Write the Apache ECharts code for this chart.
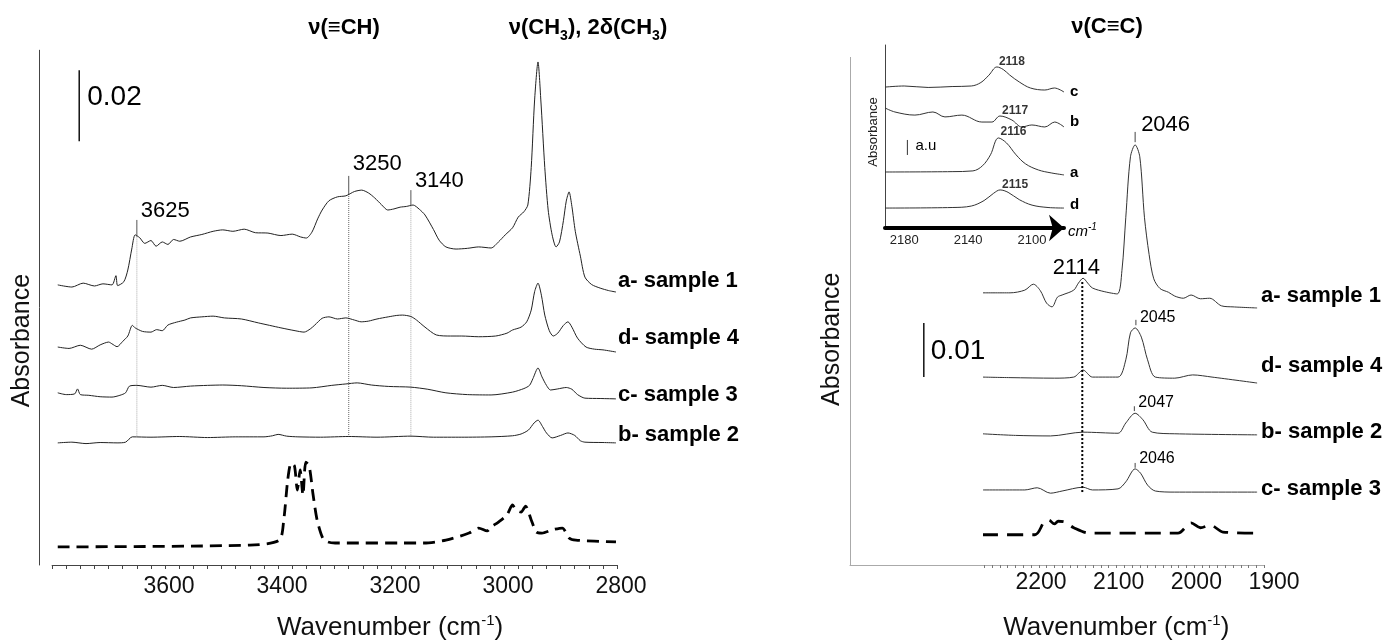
<!DOCTYPE html>
<html><head><meta charset="utf-8">
<script src="https://cdn.jsdelivr.net/npm/echarts@6/dist/echarts.min.js"></script>
<style>html,body{margin:0;padding:0;background:#fff}#c{width:1387px;height:642px}</style>
</head><body><div id="c"></div>
<script>
// ---------- LEFT PANEL (wavenumber, absorbance x1000 with stacking offset) ----------
const leftA = [[3765,78.9],[3740,78.3],[3720,79.4],[3700,78.6],[3685,79.2],[3669,78.9],[3662,81.5],[3659,78.7],[3648,79.8],[3641,83.1],[3634,89],[3628,93.0],[3620,92.2],[3611,90.6],[3600,91.4],[3591,89.8],[3580,91.0],[3570,90.3],[3560,91.7],[3549,91.2],[3530,92.4],[3510,93.1],[3490,94.0],[3473,94.4],[3455,94.0],[3435,94.6],[3415,93.6],[3393,93.5],[3370,92.8],[3350,93.2],[3335,92.4],[3325,92.1],[3315,93.8],[3305,97.5],[3297,100.0],[3285,102.6],[3270,103.7],[3255,104.0],[3240,105.2],[3227,105.6],[3215,104.8],[3204,103.4],[3192,101.5],[3181,100.0],[3170,100.3],[3159,100.8],[3148,101.0],[3136,101.4],[3125,100.2],[3115,98.6],[3100,94.5],[3090,91.5],[3078,89.6],[3060,89.0],[3040,89.2],[3020,89.6],[2998,89.3],[2985,91.0],[2973,93.0],[2960,95.0],[2950,98.0],[2940,99.5],[2933,101.4],[2927,112],[2921,131],[2915,141.7],[2910,131],[2903,112],[2897,100],[2890,93],[2883,89.6],[2877,91],[2870,97],[2865,102.5],[2860,105.1],[2855,101],[2849,94],[2840,87],[2832,81.1],[2820,79],[2805,78.0],[2790,77.3],[2777,76.9]];
const leftD = [[3765,61.4],[3745,61.0],[3725,61.9],[3705,60.8],[3690,62.0],[3675,62.8],[3669,62.3],[3660,61.5],[3650,63.0],[3641,64.5],[3633,67.5],[3628,66.8],[3615,65.8],[3600,65.6],[3590,66.3],[3580,66.0],[3570,67.6],[3555,68.4],[3540,69.0],[3530,69.6],[3510,69.9],[3490,70.1],[3470,69.6],[3440,69.3],[3410,68.2],[3390,67.5],[3370,66.8],[3345,66.0],[3329,65.6],[3318,66.5],[3310,67.6],[3297,69.5],[3285,69.9],[3270,69.3],[3255,69.6],[3240,69.0],[3228,68.5],[3215,68.7],[3200,69.3],[3180,69.9],[3165,70.3],[3155,70.4],[3140,70.0],[3130,69.0],[3115,67.0],[3095,64.8],[3070,64.5],[3050,64.5],[3020,64.3],[2990,64.5],[2970,65.3],[2960,66.2],[2945,67.0],[2935,68.5],[2927,71.8],[2921,77],[2915,79.4],[2909,76],[2903,70.4],[2895,66],[2888,64.5],[2880,65.3],[2870,67.5],[2862,68.5],[2855,67],[2845,63.9],[2830,61.4],[2815,60.8],[2800,60.6],[2777,60.0]];
const leftC = [[3765,48.5],[3750,48.0],[3735,48.2],[3730,49.6],[3725,48.0],[3710,47.8],[3690,47.4],[3669,47.3],[3655,47.8],[3645,48.5],[3638,50.4],[3625,50.6],[3600,50.1],[3580,50.6],[3560,50.0],[3530,50.4],[3500,50.6],[3473,50.7],[3440,50.5],[3400,50.0],[3360,49.8],[3315,49.9],[3280,50.6],[3255,51.0],[3235,51.3],[3210,50.7],[3180,50.3],[3140,50.1],[3110,49.5],[3078,48.5],[3040,48.0],[2998,47.9],[2960,48.7],[2940,49.7],[2930,50.6],[2924,52.5],[2915,55.5],[2908,53],[2900,50.6],[2893,49.3],[2880,49.6],[2865,50.0],[2855,49.5],[2845,48.0],[2832,47.0],[2805,46.9],[2777,46.8]];
const leftB = [[3765,34.4],[3740,34.6],[3715,34.2],[3690,34.5],[3660,34.4],[3645,34.6],[3633,36.1],[3600,36.0],[3550,36.2],[3500,35.9],[3450,36.1],[3400,36.1],[3385,36.4],[3375,36.8],[3360,36.3],[3340,36.1],[3300,36.0],[3250,36.2],[3200,36.0],[3140,36.3],[3100,36.0],[3050,36.0],[2998,36.1],[2960,36.4],[2945,36.9],[2932,38.0],[2922,40.0],[2915,40.8],[2907,39],[2900,37.2],[2890,35.8],[2875,36.5],[2862,37.2],[2850,36.5],[2840,35.0],[2832,34.6],[2800,34.5],[2777,34.4]];
const leftRef = [[3765,5.1],[3425,5.6],[3373,7.0],[3365,12.7],[3358,23.9],[3352,28.7],[3346,27.9],[3341,21.1],[3336,26.8],[3331,19.7],[3326,29.0],[3320,27.9],[3313,19.7],[3306,12.7],[3296,7.6],[3287,6.5],[3274,6.2],[3117,6.2],[3078,7.0],[3037,9.0],[3020,10.4],[3005,9.6],[2998,10.7],[2985,12.1],[2970,14.1],[2960,16.9],[2954,15.5],[2945,14.9],[2937,16.6],[2927,12.7],[2918,9.3],[2908,9.0],[2890,9.9],[2872,10.4],[2860,7.6],[2848,7.0],[2777,6.5]];
const leftNames = ['a- sample 1','d- sample 4','c- sample 3','b- sample 2'];
const leftMarkWn = [3625, 3250, 3140];
const leftMarkTop = [97.2, 109.6, 105.6];
const leftMarkCurve = [92.5, 104.5, 101.2];
const leftMarkBottom = [36.1, 36.1, 36.1];
const leftMarkText = ['3625', '3250', '3140'];
const leftBarWn = 3727, leftBar = [139.4, 119.4], leftBarText = '0.02';

// ---------- RIGHT PANEL ----------
const rightA = [[2243,50.4],[2207,50.4],[2188,50.9],[2177,52.0],[2168,50.8],[2160,48.5],[2153,47.8],[2146,49.6],[2140,50.0],[2125,50.9],[2119,52.2],[2113,53.1],[2107,52.2],[2101,51.3],[2085,50.6],[2069,50.2],[2063,54.5],[2058,64.4],[2052,75.6],[2046,77.8],[2040,75.6],[2034,64.4],[2028,57.5],[2022,53.0],[2014,51.2],[2003,50.5],[1995,49.8],[1984,49.4],[1974,50.0],[1962,49.3],[1950,49.4],[1935,48.0],[1920,47.8],[1889,47.6]];
const rightD = [[2243,34.8],[2207,34.7],[2150,34.6],[2125,34.8],[2113,36.1],[2101,34.8],[2068,34.8],[2058,38.0],[2052,43.0],[2046,43.9],[2038,42.2],[2030,38.0],[2020,34.8],[1995,34.6],[1972,35.2],[1947,34.8],[1889,33.7]];
const rightB = [[2243,24.3],[2200,24.0],[2155,23.9],[2113,24.6],[2068,24.4],[2058,26.3],[2046,28.1],[2036,26.9],[2024,24.6],[1995,24.3],[1889,24.1]];
const rightC = [[2243,13.9],[2188,13.9],[2172,14.3],[2155,13.3],[2140,13.7],[2113,14.4],[2101,13.9],[2068,14.1],[2058,15.4],[2046,17.8],[2039,17.0],[2030,14.8],[2020,13.7],[1995,13.5],[1889,13.5]];
const rightRef = [[2243,5.6],[2175,5.6],[2163,8.0],[2157,8.3],[2150,7.6],[2145,8.1],[2137,8.0],[2125,6.9],[2105,5.9],[1991,5.9],[1974,7.8],[1962,6.9],[1949,7.4],[1933,6.1],[1889,5.9]];
const rightNames = ['a- sample 1','d- sample 4','b- sample 2','c- sample 3'];
const rightPeakWn = [2046, 2045, 2047, 2046];
const rightPeakTop = [80.2, 45.4, 29.4, 18.9];
const rightPeakBottom = [78.3, 44.4, 28.5, 18.0];
const rightPeakText = ['2046', '2045', '2047', '2046'];
const shoulderWn = 2114, shoulder = [52.4, 13.5], shoulderText = '2114';
const rightBarWn = 2318, rightBar = [44.8, 34.8], rightBarText = '0.01';

// ---------- INSET ----------
const insetC = [[2192,77.0],[2180,77.6],[2165,76.8],[2150,77.3],[2138,77.6],[2132,79.5],[2127,83.5],[2122,88.0],[2118,86.6],[2114,83.6],[2108,79.8],[2101,76.5],[2092,75.4],[2086,76.5],[2080,74.3]];
const insetB = [[2192,65.6],[2185.8,63.4],[2173.3,61.7],[2162,63.4],[2154.5,60.7],[2143.9,61.7],[2131.4,57.9],[2125.1,57.9],[2120.1,61.2],[2112.6,59.0],[2106.4,55.2],[2100.1,56.3],[2092,55.2],[2085.8,57.9],[2080,55.2]];
const insetA = [[2192,30.6],[2150,30.8],[2137,31.2],[2131,34],[2126,40],[2121,49.2],[2116,46.5],[2110,40],[2104,35],[2096,31.7],[2088,30.1],[2080,29.0]];
const insetD = [[2192,10.9],[2150,11.2],[2138,12.0],[2130,15.0],[2124,19.0],[2120,20.8],[2115,19.5],[2108,15.5],[2100,12.5],[2090,11.2],[2080,10.9]];
const insetNames = ['c','b','a','d'];
const insetPeakWn = [2122, 2120, 2121, 2120];
const insetPeakVal = [88.0, 61.2, 49.2, 20.8];
const insetPeakText = ['2118', '2117', '2116', '2115'];
const insetBarWn = 2178, insetBar = [48.1, 39.9], insetBarText = 'a.u';

const FONT = '"Liberation Sans", Arial, Helvetica, sans-serif';

function lab(text, pos, dist, off, size, bold) {
  return { show: true, position: pos, distance: dist, offset: off, formatter: text,
    fontFamily: FONT, fontSize: size, fontWeight: bold ? 'bold' : 'normal', color: '#000' };
}
function withLast(data, label) {
  return data.map((p, i) => i === data.length - 1 ? { value: p, label: label } : p);
}
function ser(data, axis, style, z, smooth) {
  return {
    type: 'line', xAxisIndex: axis, yAxisIndex: axis, data: data,
    showSymbol: true, symbol: 'circle', symbolSize: 0, smooth: smooth || false,
    itemStyle: { color: 'rgba(0,0,0,0)' },
    lineStyle: Object.assign({ color: '#222', width: 1 }, style || {}),
    label: { show: false }, silent: true, animation: false, clip: false, z: z || 3
  };
}

const series = [];
// left spectra
const leftSets = [leftA, leftD, leftC, leftB];
const leftOff = [-11, -14, -4, -8];
leftSets.forEach((d, i) => series.push(ser(withLast(d, lab(leftNames[i], 'right', 2, [0, leftOff[i]], 22, true)), 0, null, 3, 0.25)));
series.push(ser(leftRef, 0, { color: '#000', width: 2.8, type: [12, 7] }, 3, 0.25));
const leftMarkDy = [-9, -12, -9];
leftMarkWn.forEach((w, i) => {
  series.push(ser([{ value: [w, leftMarkTop[i]], label: lab(leftMarkText[i], 'right', 4, [0, leftMarkDy[i]], 22, false) }, [w, leftMarkCurve[i]]], 0, { color: '#555' }));
  series.push(ser([[w, leftMarkCurve[i]], [w, leftMarkBottom[i]]], 0, { color: i === 1 ? '#666' : '#aaa', type: 'dotted' }, 2));
});
series.push(ser([{ value: [leftBarWn, leftBar[0]], label: lab(leftBarText, 'right', 8, [0, 27], 28, false) }, [leftBarWn, leftBar[1]]], 0, { color: '#111', width: 1.5 }));

// right spectra
const rightSets = [rightA, rightD, rightB, rightC];
const rightOff = [-12, -17, -3, -3];
rightSets.forEach((d, i) => series.push(ser(withLast(d, lab(rightNames[i], 'right', 4, [0, rightOff[i]], 22, true)), 2, { color: '#333' }, 3, 0.3)));
series.push(ser(rightRef, 2, { color: '#000', width: 2.8, type: [16, 9] }, 3, 0.3));
const rightPeakDy = [-7, -2, -4, -4];
rightPeakWn.forEach((w, i) => {
  series.push(ser([{ value: [w, rightPeakTop[i]], label: lab(rightPeakText[i], 'right', i === 0 ? 6 : 4, [0, rightPeakDy[i]], i === 0 ? 22 : 16, false) }, [w, rightPeakBottom[i]]], 2, { color: '#444' }));
});
series.push(ser([{ value: [shoulderWn, shoulder[0]], label: lab(shoulderText, 'top', 3, [-6, 0], 22, false) }, [shoulderWn, shoulder[1]]], 2, { color: '#000', width: 2, type: 'dotted' }));
series.push(ser([{ value: [rightBarWn, rightBar[0]], label: lab(rightBarText, 'right', 7, [0, 28], 28, false) }, [rightBarWn, rightBar[1]]], 1, { color: '#111', width: 1.5 }));

// inset
const insetSets = [insetC, insetB, insetA, insetD];
const insetOff = [0, -5, -2, -3];
insetSets.forEach((d, i) => series.push(ser(withLast(d, lab(insetNames[i], 'right', 6, [0, insetOff[i]], 15, true)), 3, { color: '#333' }, 5, 0.35)));
const insetPeakDy = [-5, -5, -6, -5];
series.push({
  type: 'scatter', xAxisIndex: 3, yAxisIndex: 3, symbolSize: 0, silent: true, animation: false, z: 6,
  itemStyle: { color: 'rgba(0,0,0,0)' },
  data: insetPeakWn.map((w, i) => ({ value: [w, insetPeakVal[i]], label: lab(insetPeakText[i], 'right', 2, [0, insetPeakDy[i]], 12, true) }))
});
series.push(ser([{ value: [insetBarWn, insetBar[0]], label: lab(insetBarText, 'right', 8, [0, 6], 15, false) }, [insetBarWn, insetBar[1]]], 3, { color: '#333' }, 5));

const nameRich = { sup: { fontSize: 15, lineHeight: 15, verticalAlign: 'top', fontFamily: FONT, color: '#111' } };

const option = {
  animation: false,
  backgroundColor: '#fff',
  grid: [
    { left: 52.1, top: 50.25, width: 565, height: 514.75, outerBoundsMode: 'none' },
    { left: 850, top: 57.4, width: 414.1, height: 507.6, outerBoundsMode: 'none' },
    { left: 984.4, top: 57.4, width: 279.7, height: 507.6, outerBoundsMode: 'none' },
    { left: 885, top: 45, width: 179, height: 183, outerBoundsMode: 'none' }
  ],
  xAxis: [
    { gridIndex: 0, type: 'value', min: 2775, max: 3775, inverse: true, interval: 25,
      axisLine: { lineStyle: { color: '#444', width: 1 } },
      axisTick: { show: true, length: 4, lineStyle: { color: '#444' } },
      splitLine: { show: false },
      axisLabel: { formatter: v => (v % 200 === 0 ? String(v) : ''), fontSize: 23, fontFamily: FONT, color: '#111', margin: 10, padding: [0, 0, 0, 36] },
      name: 'Wavenumber (cm{sup|-1})', nameLocation: 'middle', nameGap: 48, nameMoveOverlap: false,
      nameTextStyle: { fontSize: 26, fontFamily: FONT, color: '#111', lineHeight: 30, padding: [0, 0, 0, 111], rich: nameRich } },
    { gridIndex: 1, type: 'value', min: 1880, max: 2413, inverse: true,
      axisLine: { lineStyle: { color: '#aaa', width: 1 } }, axisTick: { show: false }, axisLabel: { show: false }, splitLine: { show: false } },
    { gridIndex: 2, type: 'value', min: 1880, max: 2240, inverse: true, interval: 10,
      axisLine: { show: false }, axisTick: { show: true, length: 3, lineStyle: { color: '#777' } }, splitLine: { show: false },
      axisLabel: { formatter: v => (v % 100 === 0 ? String(v) : ''), fontSize: 23, fontFamily: FONT, color: '#111', margin: 6, padding: [0, 0, 0, 51] },
      name: 'Wavenumber (cm{sup|-1})', nameLocation: 'middle', nameGap: 48, nameMoveOverlap: false,
      nameTextStyle: { fontSize: 26, fontFamily: FONT, color: '#111', lineHeight: 30, padding: [0, 16, 0, 0], rich: nameRich } },
    { gridIndex: 3, type: 'value', min: 2080, max: 2192, inverse: true, interval: 20,
      axisLine: { lineStyle: { color: '#000', width: 4 }, symbol: ['none', 'arrow'], symbolSize: [20, 15] },
      axisTick: { show: false }, splitLine: { show: false },
      axisLabel: { formatter: v => (v % 40 === 20 ? String(v) : ''), fontSize: 13, fontFamily: FONT, color: '#222', margin: 6 } }
  ],
  yAxis: [
    { gridIndex: 0, type: 'value', min: 0, max: 145, offset: 13,
      axisLine: { show: true, lineStyle: { color: '#444' } }, axisTick: { show: false }, axisLabel: { show: false }, splitLine: { show: false },
      name: 'Absorbance', nameLocation: 'middle', nameGap: 4, nameMoveOverlap: false,
      nameTextStyle: { fontSize: 25, fontFamily: FONT, color: '#111', padding: [0, 66, 0, 0] } },
    { gridIndex: 1, type: 'value', min: 0, max: 94,
      axisLine: { show: true, lineStyle: { color: '#aaa' } }, axisTick: { show: false }, axisLabel: { show: false }, splitLine: { show: false },
      name: 'Absorbance', nameLocation: 'middle', nameGap: 5, nameMoveOverlap: false,
      nameTextStyle: { fontSize: 25, fontFamily: FONT, color: '#111', padding: [0, 56, 0, 0] } },
    { gridIndex: 2, type: 'value', min: 0, max: 94, show: false },
    { gridIndex: 3, type: 'value', min: 0, max: 100,
      axisLine: { show: true, lineStyle: { color: '#444' } }, axisTick: { show: false }, axisLabel: { show: false }, splitLine: { show: false },
      name: 'Absorbance', nameLocation: 'middle', nameGap: 5, nameMoveOverlap: false,
      nameTextStyle: { fontSize: 13, fontFamily: FONT, color: '#222', padding: [0, 0, 0, 9] } }
  ],
  graphic: (function () {
    const R = {
      b: { fontSize: 22, fontWeight: 'bold', fontFamily: FONT, lineHeight: 30, fill: '#000', color: '#000' },
      s: { fontSize: 14, fontWeight: 'bold', fontFamily: FONT, lineHeight: 14, verticalAlign: 'bottom', fill: '#000', color: '#000' },
      i: { fontSize: 15, fontStyle: 'italic', fontFamily: FONT, lineHeight: 20, fill: '#000', color: '#000' },
      p: { fontSize: 10, fontStyle: 'italic', fontFamily: FONT, lineHeight: 10, verticalAlign: 'top', fill: '#000', color: '#000' }
    };
    const t = (x, y, text, align) => ({ type: 'text', x: x, y: y, silent: true,
      style: { text: text, rich: R, align: align, textAlign: align, verticalAlign: 'middle', textVerticalAlign: 'middle', fill: '#000' } });
    return [
      t(344, 28, '{b|ν(≡CH)}', 'center'),
      t(588, 28, '{b|ν(CH}{s|3}{b|), 2δ(CH}{s|3}{b|)}', 'center'),
      t(1107, 27, '{b|ν(C≡C)}', 'center'),
      t(1068, 232, '{i|cm}{p|-1}', 'left')
    ];
  })(),
  series: series
};

const chart = echarts.init(document.getElementById('c'));
chart.setOption(option);
</script>
</body></html>
